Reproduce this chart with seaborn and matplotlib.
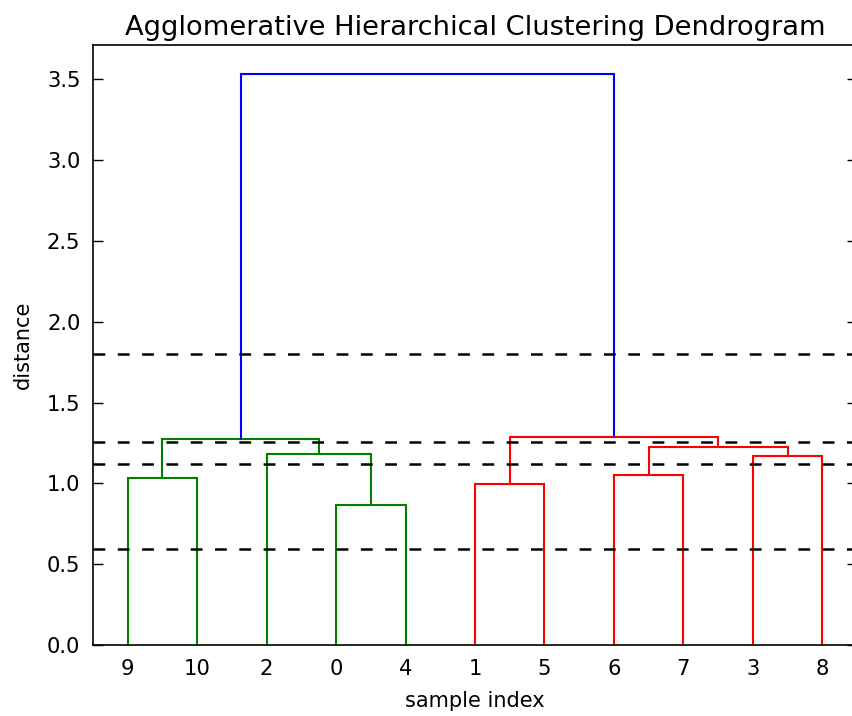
import matplotlib
matplotlib.use("Agg")
import matplotlib.pyplot as plt
import seaborn as sns

# ---- data ----
leaf_order = [9, 10, 2, 0, 4, 1, 5, 6, 7, 3, 8]
n_leaves = 11
# merges: (left id, right id, distance); new cluster ids start at n_leaves
merge_left = [0, 1, 9, 6, 3, 2, 14, 13, 12, 18]
merge_right = [4, 5, 10, 7, 8, 11, 15, 16, 17, 19]
merge_dist = [0.864, 0.997, 1.034, 1.050, 1.172, 1.185, 1.228, 1.276, 1.288, 3.536]
cut_lines = [1.80, 1.255, 1.12, 0.595]
yticks = [0.0, 0.5, 1.0, 1.5, 2.0, 2.5, 3.0, 3.5]

sns.set_theme(style="ticks")
plt.rcParams['font.family'] = ['DejaVu Sans']
plt.rcParams['lines.scale_dashes'] = False
plt.rcParams['text.color'] = 'black'
plt.rcParams['axes.labelcolor'] = 'black'

fig = plt.figure(figsize=(8.53, 7.16), dpi=100)
ax = fig.add_axes([93 / 853, 71 / 716, 764 / 853, 600 / 716])

pos = {leaf: 5 + 10 * i for i, leaf in enumerate(leaf_order)}
height = {leaf: 0.0 for leaf in leaf_order}
members = {leaf: [leaf] for leaf in leaf_order}
color_threshold = 0.7 * max(merge_dist)
palette = ['#008000', '#ff0000']

for k, (a, b, d) in enumerate(zip(merge_left, merge_right, merge_dist)):
    cid = n_leaves + k
    pos[cid] = (pos[a] + pos[b]) / 2
    height[cid] = d
    members[cid] = members[a] + members[b]

# colour the top-level sub-threshold clusters left to right
top_clusters = []
for k, d in enumerate(merge_dist):
    cid = n_leaves + k
    if d < color_threshold:
        has_low_parent = any((a == cid or b == cid) and d2 < color_threshold
                             for a, b, d2 in zip(merge_left, merge_right, merge_dist))
        if not has_low_parent:
            top_clusters.append(cid)
top_clusters.sort(key=lambda c: min(leaf_order.index(m) for m in members[c]))
cl_col = {}
for i, c in enumerate(top_clusters):
    for m in members[c]:
        cl_col[m] = palette[i % len(palette)]

for k, (a, b, d) in enumerate(zip(merge_left, merge_right, merge_dist)):
    cid = n_leaves + k
    col = cl_col[members[cid][0]] if d < color_threshold else '#0000ff'
    xa, xb = pos[a], pos[b]
    ax.plot([xa, xa, xb, xb], [height[a], d, d, height[b]], color=col,
            lw=1.5, solid_joinstyle='miter', zorder=2)

for y in cut_lines:
    ax.axhline(y, color='black', lw=1.8, dashes=(8.5, 9.0), zorder=3)

ax.set_xlim(0, 10 * n_leaves)
ax.set_ylim(0, max(merge_dist) * 1.05)
ax.set_xticks([5 + 10 * i for i in range(n_leaves)])
ax.set_xticklabels([str(l) for l in leaf_order])
ax.set_yticks(yticks)
ax.set_yticklabels([f"{v:.1f}" for v in yticks])

for s in ax.spines.values():
    s.set_visible(True)
    s.set_linewidth(1.2)
    s.set_color('black')
ax.tick_params(axis='x', length=0, pad=10, labelsize=15.2, colors='black')
ax.tick_params(axis='y', direction='in', length=7, width=1, pad=9,
               labelsize=15.2, right=True, left=True, colors='black')

ax.set_title("Agglomerative Hierarchical Clustering Dendrogram", fontsize=19.6,
             pad=7, color='black')
ax.set_xlabel("sample index", fontsize=15, labelpad=9, color='black')
ax.set_ylabel("distance", fontsize=15, labelpad=10, color='black')

fig.savefig("out.png", dpi=100, facecolor='white')
